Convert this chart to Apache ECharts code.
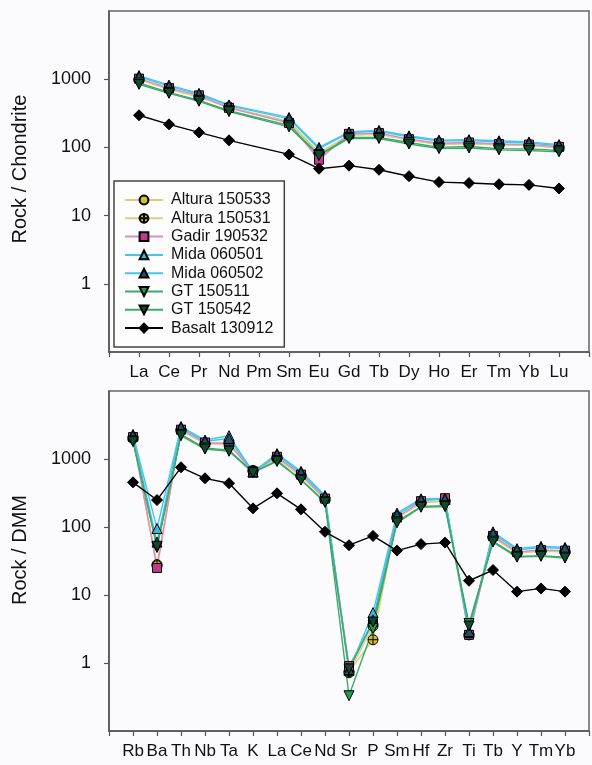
<!DOCTYPE html>
<html><head><meta charset="utf-8">
<script src="https://cdn.jsdelivr.net/npm/echarts@6/dist/echarts.min.js"></script>
<style>html,body{margin:0;padding:0;background:#fbfbfd;} #c{width:592px;height:765px;}</style>
</head><body><div id="c"></div>
<script>
// ---- categories / tick labels ----
const reeLabels = ['La','Ce','Pr','Nd','Pm','Sm','Eu','Gd','Tb','Dy','Ho','Er','Tm','Yb','Lu'];
const spiderLabels = ['Rb','Ba','Th','Nb','Ta','K','La','Ce','Nd','Sr','P','Sm','Hf','Zr','Ti','Tb','Y','Tm','Yb'];
const yTickValues = [1, 10, 100, 1000];
const yTickLabels = ['1','10','100','1000'];

// ---- Rock / Chondrite (REE) ----
const reeAltura150533 = [1000, 720, 560, 390, null, 240, 84, 150, 155, 128, 110, 113, 108, 106, 98];
const reeAltura150531 = [980, 710, 545, 385, null, 232, 82, 152, 160, 130, 112, 116, 110, 108, 100];
const reeGadir190532  = [1020, 740, 580, 380, null, 228, 66, 158, 162, 132, 115, 118, 112, 110, 102];
const reeMida060501   = [1130, 820, 620, 420, null, 275, 100, 168, 178, 148, 128, 130, 125, 120, 110];
const reeMida060502   = [1080, 790, 600, 410, null, 262, 95, 165, 172, 142, 124, 126, 120, 116, 106];
const reeGT150511     = [880, 640, 490, 345, null, 210, 78, 140, 140, 118, 100, 103, 96, 95, 90];
const reeGT150542     = [840, 620, 475, 335, null, 200, 76, 135, 135, 112, 96, 98, 92, 90, 86];
const reeBasalt130912 = [296, 218, 166, 127, null, 79, 48.7, 54, 47, 37.8, 31, 30, 28.8, 28.2, 25];

// ---- Rock / DMM (multi-element) ----
const dmmAltura150533 = [2050, 28, 2700, 1700, 1750, 680, 1050, 580, 260, 0.72, 3.5, 140, 230, 245, 2.6, 72, 42, 45, 44];
const dmmAltura150531 = [2000, 27, 2650, 1650, 1700, 660, 1020, 560, 255, 0.75, 2.2, 135, 225, 240, 2.6, 70, 41, 44, 43];
const dmmGadir190532  = [2100, 25, 2700, 1750, 1650, 650, 1080, 590, 262, 0.9, 4.0, 138, 240, 265, 2.6, 74, 43, 46, 45];
const dmmMida060501   = [2300, 95, 3000, 1900, 2200, 640, 1200, 660, 290, 0.78, 5.5, 160, 260, 262, 2.8, 85, 48, 52, 50];
const dmmMida060502   = [2200, 60, 2900, 1820, 2000, 650, 1150, 630, 280, 0.8, 4.3, 150, 250, 255, 2.9, 80, 46, 50, 48];
const dmmGT150511     = [1850, 50, 2300, 1450, 1350, 640, 950, 500, 235, 0.33, 3.2, 120, 200, 205, 3.8, 62, 37, 38, 36];
const dmmGT150542     = [1800, 52, 2200, 1400, 1300, 630, 920, 490, 230, 0.82, 4.0, 115, 195, 200, 3.5, 60, 36, 37, 35];
const dmmBasalt130912 = [454, 249, 755, 520, 440, 188, 313, 182, 85, 54, 74, 45, 56, 59, 16.2, 23.3, 11.2, 12.5, 11.2];

const FONT = '"Liberation Sans", Arial, sans-serif';
const crossCircle = 'path://M0,-10A10,10 0 1,1 0,10A10,10 0 1,1 0,-10ZM0,-10L0,10M-10,0L10,0';
const downTri = 'path://M0,0L10,0L5,9Z';

const samples = [
  {name:'Altura 150533', ree: reeAltura150533, dmm: dmmAltura150533, line:'#d9d07e', fill:'#d2c23a', symbol:'circle', size:10},
  {name:'Altura 150531', ree: reeAltura150531, dmm: dmmAltura150531, line:'#d9d07e', fill:'#d4b934', symbol:crossCircle, size:10},
  {name:'Gadir 190532', ree: reeGadir190532, dmm: dmmGadir190532, line:'#d88ec0', fill:'#bf3a8a', symbol:'rect', size:9},
  {name:'Mida 060501', ree: reeMida060501, dmm: dmmMida060501, line:'#45c4f0', fill:'#3cb4e0', symbol:'triangle', size:10},
  {name:'Mida 060502', ree: reeMida060502, dmm: dmmMida060502, line:'#45c4f0', fill:'#1d5468', symbol:'triangle', size:10},
  {name:'GT 150511', ree: reeGT150511, dmm: dmmGT150511, line:'#3caa6a', fill:'#1f9d4f', symbol:downTri, size:10},
  {name:'GT 150542', ree: reeGT150542, dmm: dmmGT150542, line:'#3caa6a', fill:'#0e4a2c', symbol:downTri, size:10},
  {name:'Basalt 130912', ree: reeBasalt130912, dmm: dmmBasalt130912, line:'#000000', fill:'#000000', symbol:'diamond', size:11}
];

function pairs(arr){
  const out = [];
  arr.forEach((v,i)=>{ if(v!==null) out.push([i+1, v]); });
  return out;
}

const series = [];
samples.forEach(s=>{
  [0,1].forEach(k=>{
    series.push({
      name: s.name, type:'line',
      xAxisIndex:k, yAxisIndex:k,
      data: pairs(k===0 ? s.ree : s.dmm),
      symbol: s.symbol, symbolSize: s.size,
      lineStyle:{color:s.line, width:1.4},
      itemStyle:{color:s.fill, borderColor:'#000', borderWidth:1},
      emphasis:{disabled:true},
      animation:false
    });
  });
});

function yLabel(v){
  const e = Math.round(Math.log10(v));
  if (e>=0 && e<=3 && Math.abs(Math.log10(v)-e)<1e-6) return yTickLabels[e];
  return '';
}

const axisLineStyle = {lineStyle:{color:'#555', width:1.5}};

function xAxisFor(idx, labels, max){
  return {
    type:'value', gridIndex:idx, min:0, max:max, interval:1,
    axisLine:axisLineStyle,
    axisTick:{show:true, inside:false, length:5, lineStyle:{color:'#555', width:1.2}},
    splitLine:{show:false},
    axisLabel:{margin:12, fontSize:17, color:'#111', fontFamily:FONT,
      formatter:(v)=> labels[v-1] || ''}
  };
}
function yAxisFor(idx){
  return {
    type:'log', gridIndex:idx, logBase:10, min:0.1, max:10000, splitNumber:5,
    axisLine:{show:true, ...axisLineStyle},
    axisTick:{show:true, inside:false, length:5, lineStyle:{color:'#555', width:1.2}, customValues:yTickValues},
    splitLine:{show:false}, minorTick:{show:false},
    axisLabel:{margin:18, fontSize:18, color:'#111', fontFamily:FONT, formatter:yLabel, customValues:yTickValues}
  };
}

const option = {
  backgroundColor:'#fbfbfd',
  animation:false,
  grid:[
    {left:109, top:11, width:486, height:341, show:true, borderColor:'#666', borderWidth:1.5, backgroundColor:'transparent'},
    {left:109, top:391, width:486, height:340, show:true, borderColor:'#666', borderWidth:1.5, backgroundColor:'transparent'}
  ],
  xAxis:[xAxisFor(0, reeLabels, 16), xAxisFor(1, spiderLabels, 20)],
  yAxis:[yAxisFor(0), yAxisFor(1)],
  legend:{
    orient:'vertical', left:114, top:181,
    data: samples.map(s=>s.name),
    itemWidth:38, itemHeight:11, itemGap:2.3,
    padding:[11,11,11,10],
    backgroundColor:'#fdfdfd', borderColor:'#444', borderWidth:1.5, borderRadius:0,
    textStyle:{fontSize:16, lineHeight:16, color:'#111', fontFamily:FONT, padding:[0,0,0,3]},
    selectedMode:false
  },
  graphic:[
    {type:'text', x:20, y:169, rotation:Math.PI/2,
      style:{text:'Rock / Chondrite', fontSize:20, fontFamily:FONT, fill:'#111', textAlign:'center', textVerticalAlign:'middle'}},
    {type:'text', x:20, y:550, rotation:Math.PI/2,
      style:{text:'Rock / DMM', fontSize:20, fontFamily:FONT, fill:'#111', textAlign:'center', textVerticalAlign:'middle'}}
  ],
  series: series
};

const chart = echarts.init(document.getElementById('c'), null, {renderer:'canvas'});
chart.setOption(option);
</script>
</body></html>
